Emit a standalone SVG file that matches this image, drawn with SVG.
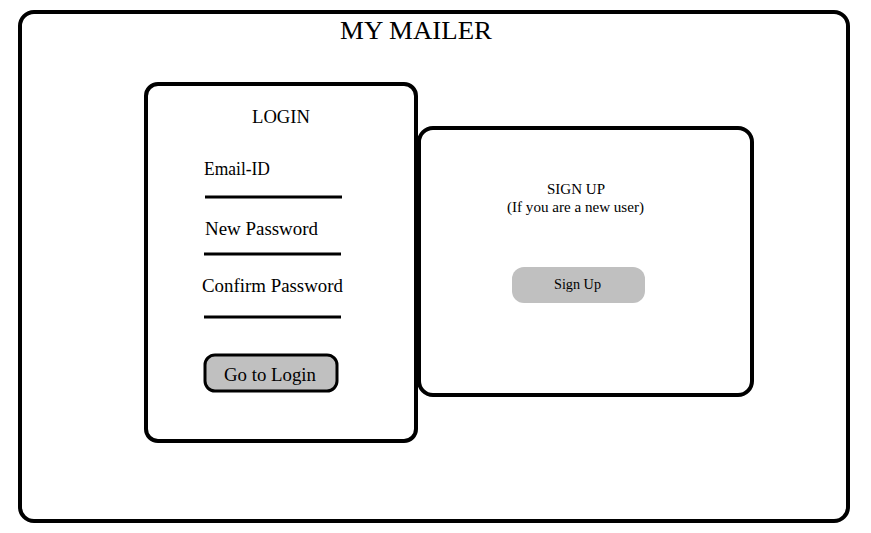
<svg xmlns="http://www.w3.org/2000/svg" width="871" height="533" viewBox="0 0 871 533">
<style>
.box{fill:#fff;stroke:#000;stroke-width:4}
.t{font-family:"Liberation Serif","Times New Roman",serif;fill:#000}
.line{stroke:#000;stroke-width:3}
</style>
<rect width="871" height="533" fill="#fff"/>
<g id="app">
<rect class="box" x="20" y="12" width="828" height="509" rx="14"/>
<text class="t" x="340" y="39" font-size="25" textLength="152" lengthAdjust="spacingAndGlyphs">MY MAILER</text>
</g>
<g id="login">
<rect class="box" x="146" y="84" width="270" height="357" rx="12"/>
<text class="t" x="252" y="123" font-size="18" textLength="58" lengthAdjust="spacingAndGlyphs">LOGIN</text>
<text class="t" x="204" y="175" font-size="18" textLength="66" lengthAdjust="spacingAndGlyphs">Email-ID</text>
<line class="line" x1="205" y1="197" x2="342" y2="197"/>
<text class="t" x="205" y="235" font-size="18" textLength="113" lengthAdjust="spacingAndGlyphs">New Password</text>
<line class="line" x1="204" y1="254" x2="341" y2="254"/>
<text class="t" x="202" y="292" font-size="18" textLength="141" lengthAdjust="spacingAndGlyphs">Confirm Password</text>
<line class="line" x1="204" y1="317" x2="341" y2="317"/>
</g>
<g id="go-to-login">
<rect x="205" y="355" width="132" height="36" rx="10" fill="#c0c0c0" stroke="#000" stroke-width="3"/>
<text class="t" x="224" y="381" font-size="19" textLength="92" lengthAdjust="spacingAndGlyphs">Go to Login</text>
</g>
<g id="signup">
<rect class="box" x="419" y="128" width="333" height="267" rx="14"/>
<text class="t" x="547" y="194" font-size="14" textLength="58" lengthAdjust="spacingAndGlyphs">SIGN UP</text>
<text class="t" x="507" y="212" font-size="14" textLength="137" lengthAdjust="spacingAndGlyphs">(If you are a new user)</text>
</g>
<g id="sign-up-button">
<rect x="512" y="267" width="133" height="36" rx="12" fill="#c0c0c0"/>
<text class="t" x="554" y="289" font-size="14" textLength="47" lengthAdjust="spacingAndGlyphs">Sign Up</text>
</g>
<g id="connectors"/>
</svg>
